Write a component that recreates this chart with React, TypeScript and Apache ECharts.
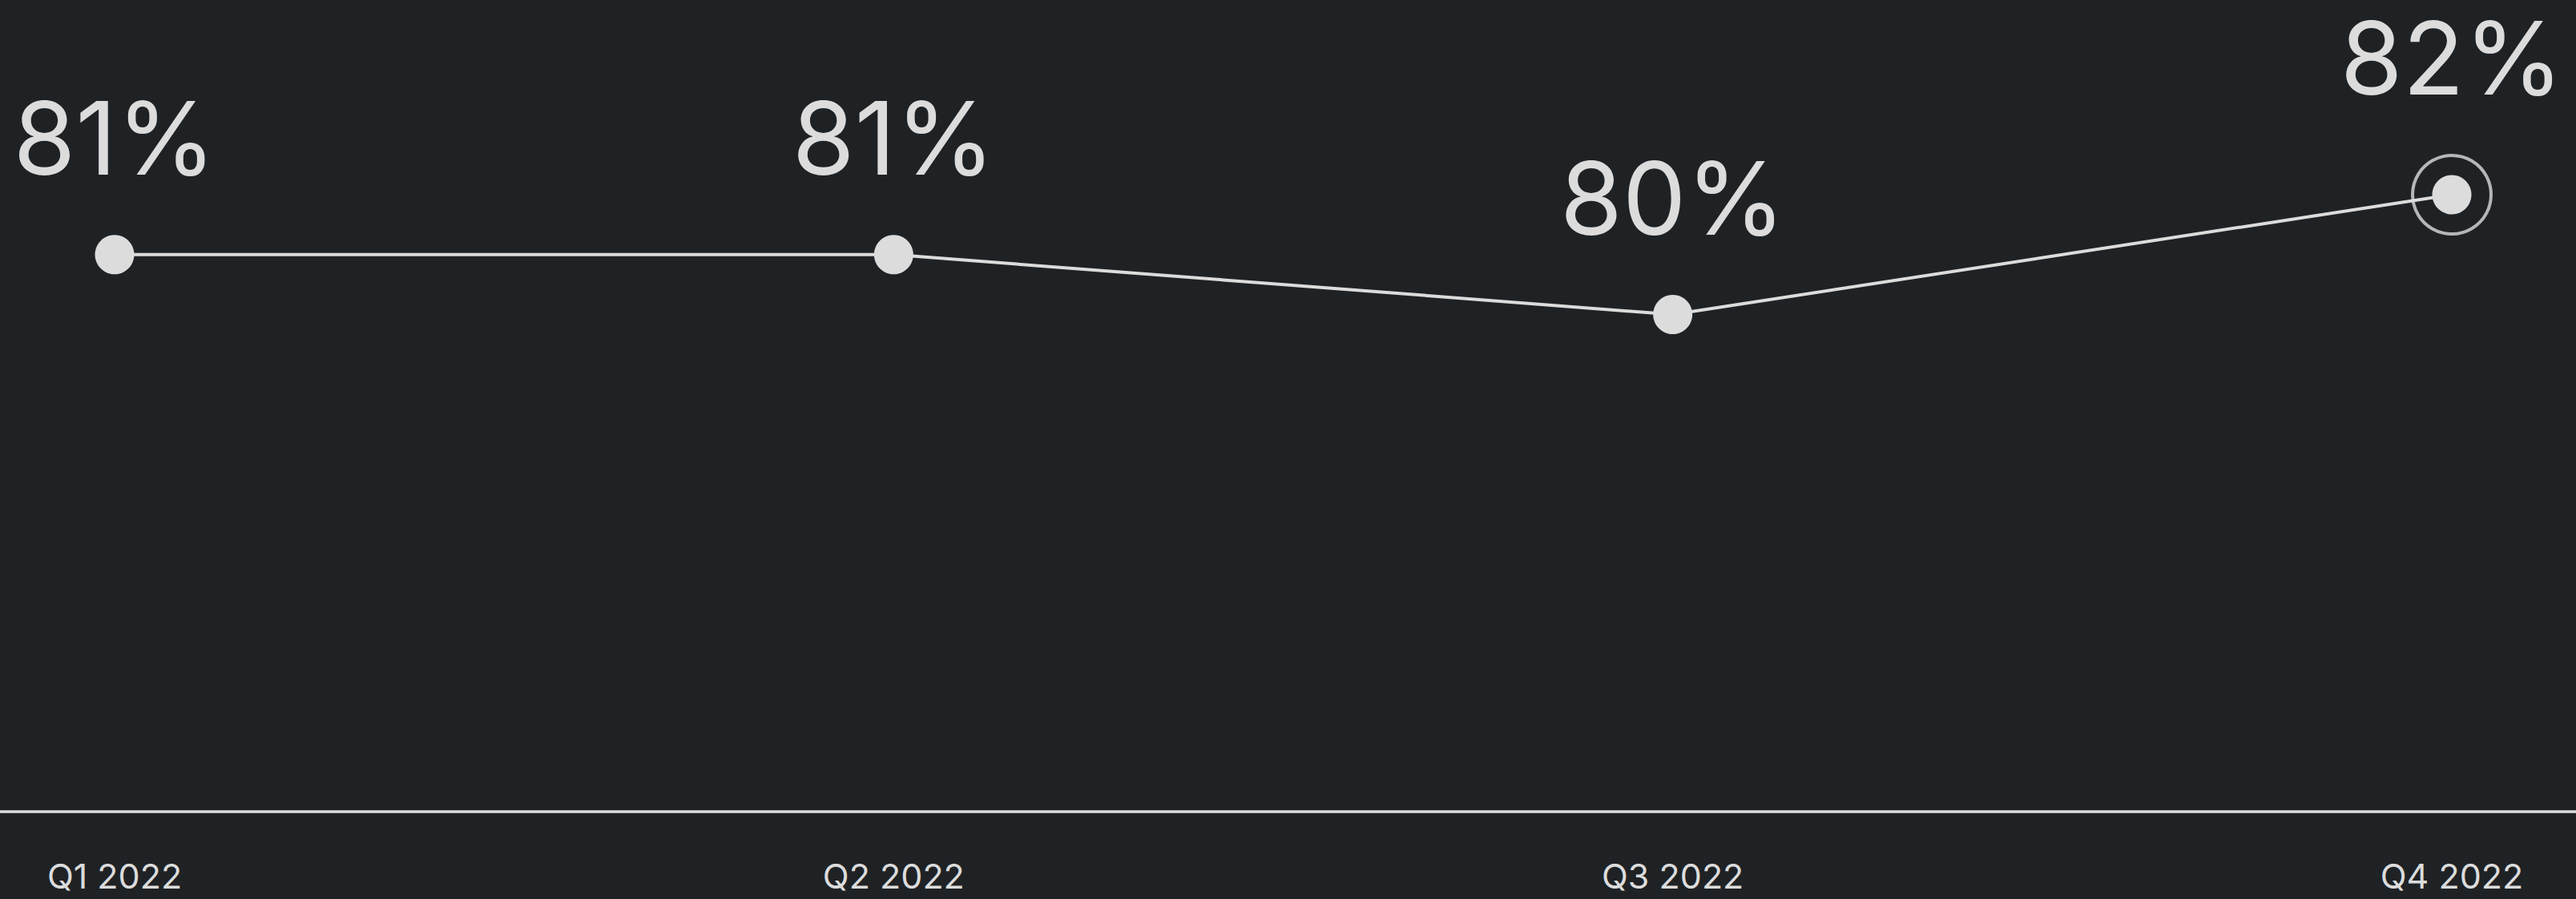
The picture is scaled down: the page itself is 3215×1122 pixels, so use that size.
import React, { useEffect, useRef } from "react";
import * as echarts from "echarts";

const categories = ["Q1 2022", "Q2 2022", "Q3 2022", "Q4 2022"];
const values = [81, 81, 80, 82];
const highlightIndex = 3;

const BG = "#1f2225";
const FG = "#dcdcdc";

export default function App() {
  const ref = useRef<HTMLDivElement>(null);
  useEffect(() => {
    document.body.style.margin = "0";
    document.body.style.background = BG;
    const chart = echarts.init(ref.current!, null, { renderer: "svg" });
    const lineData = values.map((v, i) => ({
      value: v,
      label: { distance: i === highlightIndex ? 97 : 71 },
    }));
    const ringData = values.map((v, i) => (i === highlightIndex ? v : null));
    chart.setOption({
      animation: false,
      backgroundColor: BG,
      grid: { left: 143, right: 155, top: 243, bottom: 109 },
      xAxis: {
        type: "category",
        data: categories,
        boundaryGap: false,
        axisLine: { show: false },
        axisTick: { show: false },
        splitLine: { show: false },
        axisLabel: {
          color: FG,
          fontFamily: "Inter",
          fontSize: 43,
          lineHeight: 42,
          margin: 59,
        },
      },
      yAxis: {
        type: "value",
        min: 71.7,
        max: 82,
        show: false,
        splitLine: { show: false },
      },
      graphic: [
        {
          type: "line",
          shape: { x1: 0, y1: 1013, x2: 3215, y2: 1013 },
          style: { stroke: FG, lineWidth: 3.5 },
          silent: true,
        },
      ],
      series: [
        {
          type: "line",
          data: lineData,
          symbol: "circle",
          symbolSize: 49,
          lineStyle: { color: FG, width: 4 },
          itemStyle: { color: FG },
          label: {
            show: true,
            position: "top",
            formatter: "{c}%",
            color: FG,
            fontFamily: "Inter",
            fontSize: 126,
            lineHeight: 100,
            fontWeight: 400,
          },
          z: 2,
        },
        {
          type: "scatter",
          data: ringData,
          symbol: "circle",
          symbolSize: 98,
          itemStyle: { color: "rgba(0,0,0,0)", borderColor: FG, borderWidth: 4 },
          z: 3,
        },
      ],
    });
    return () => chart.dispose();
  }, []);
  return <div ref={ref} style={{ width: 3215, height: 1122 }} />;
}
